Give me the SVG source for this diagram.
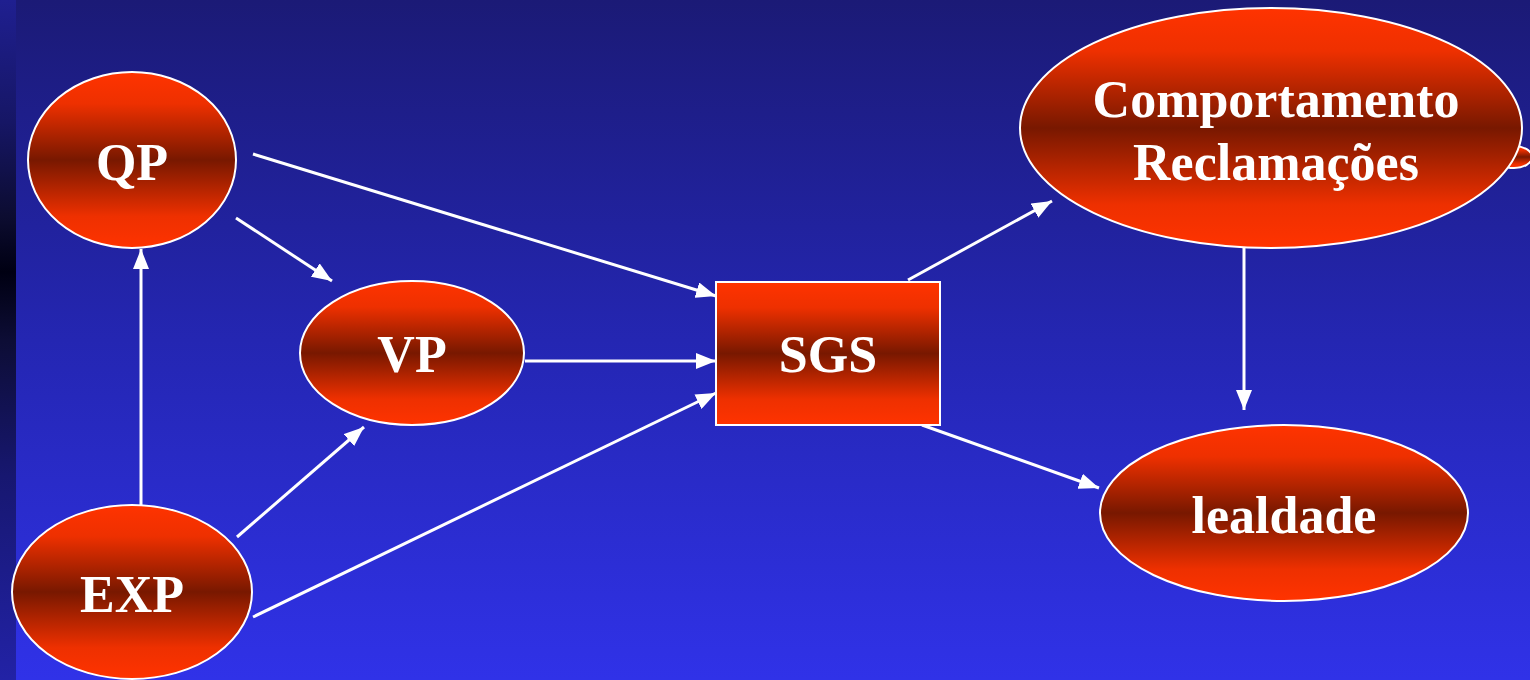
<svg xmlns="http://www.w3.org/2000/svg" width="1530" height="680" viewBox="0 0 1530 680">
  <defs>
    <linearGradient id="bg" x1="0" y1="0" x2="0" y2="1">
      <stop offset="0" stop-color="#1b1a76"/>
      <stop offset="0.5" stop-color="#2426b2"/>
      <stop offset="1" stop-color="#3032e8"/>
    </linearGradient>
    <linearGradient id="strip" x1="0" y1="0" x2="0" y2="1">
      <stop offset="0" stop-color="#1f1f90"/>
      <stop offset="0.18" stop-color="#161665"/>
      <stop offset="0.32" stop-color="#0c0c30"/>
      <stop offset="0.4" stop-color="#000012"/>
      <stop offset="0.5" stop-color="#0d0d35"/>
      <stop offset="0.7" stop-color="#171770"/>
      <stop offset="1" stop-color="#2222a6"/>
    </linearGradient>
    <linearGradient id="node" x1="0" y1="0" x2="0" y2="1">
      <stop offset="0" stop-color="#ff3300"/>
      <stop offset="0.18" stop-color="#ee3000"/>
      <stop offset="0.5" stop-color="#781800"/>
      <stop offset="0.82" stop-color="#ee3000"/>
      <stop offset="1" stop-color="#ff3300"/>
    </linearGradient>
    <marker id="arrow" markerUnits="userSpaceOnUse" markerWidth="20" markerHeight="16" refX="20" refY="8" orient="auto">
      <path d="M0,0 L20,8 L0,16 z" fill="#ffffff"/>
    </marker>
  </defs>
  <style>
    .shape { fill: url(#node); stroke: #ffffff; stroke-width: 2; }
    .label { font-family: "Liberation Serif", "Times New Roman", serif; font-weight: bold; font-size: 52px; fill: #ffffff; text-anchor: middle; }
    .link { stroke: #ffffff; stroke-width: 3; fill: none; marker-end: url(#arrow); }
  </style>

  <!-- backdrop -->
  <rect x="0" y="0" width="1530" height="680" fill="url(#bg)"/>
  <rect x="0" y="0" width="16" height="680" fill="url(#strip)"/>

  <!-- connectors -->
  <g id="connectors">
    <line class="link" x1="253" y1="154" x2="716" y2="296"/>
    <line class="link" x1="236" y1="218" x2="332" y2="281"/>
    <line class="link" x1="141" y1="505" x2="141" y2="249"/>
    <line class="link" x1="237" y1="537" x2="364" y2="427"/>
    <line class="link" x1="253" y1="617" x2="716" y2="393"/>
    <line class="link" x1="525" y1="361" x2="716" y2="361"/>
    <line class="link" x1="908" y1="280" x2="1052" y2="201"/>
    <line class="link" x1="922" y1="425" x2="1099" y2="488"/>
    <line class="link" x1="1244" y1="248" x2="1244" y2="410"/>
  </g>

  <g id="node-qp">
    <ellipse class="shape" cx="132" cy="160" rx="104" ry="88"/>
    <text class="label" x="132" y="180">QP</text>
  </g>

  <g id="node-exp">
    <ellipse class="shape" cx="132" cy="592" rx="120" ry="87"/>
    <text class="label" x="132" y="612">EXP</text>
  </g>

  <g id="node-vp">
    <ellipse class="shape" cx="412" cy="353" rx="112" ry="72"/>
    <text class="label" x="412" y="372">VP</text>
  </g>

  <g id="node-sgs">
    <rect class="shape" x="716" y="282" width="224" height="143"/>
    <text class="label" x="828" y="372">SGS</text>
  </g>

  <g id="node-comportamento">
    <ellipse class="shape" cx="1514" cy="157" rx="18" ry="11"/>
    <ellipse class="shape" cx="1271" cy="128" rx="251" ry="120"/>
    <text class="label" x="1276" y="117">Comportamento</text>
    <text class="label" x="1276" y="180">Reclamações</text>
  </g>

  <g id="node-lealdade">
    <ellipse class="shape" cx="1284" cy="513" rx="184" ry="88"/>
    <text class="label" x="1284" y="533">lealdade</text>
  </g>
</svg>
